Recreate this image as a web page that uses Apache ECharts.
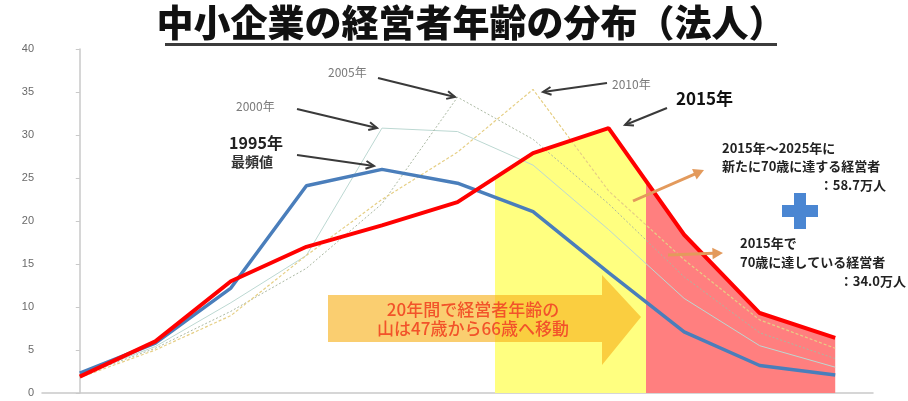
<!DOCTYPE html>
<html>
<head>
<meta charset="utf-8">
<script src="https://cdn.jsdelivr.net/npm/echarts@6/dist/echarts.min.js"></script>
<style>
html, body { margin: 0; padding: 0; background: #fff; }
#chart { width: 908px; height: 401px; }
</style>
</head>
<body>
<div id="chart"></div>
<script>
// age groups (labels are cut off in the source picture)
const ageGroups = ['～34歳', '35～39歳', '40～44歳', '45～49歳', '50～54歳', '55～59歳',
  '60～64歳', '65～69歳', '70～74歳', '75～79歳', '80歳～'];
const yTicks = [0, 5, 10, 15, 20, 25, 30, 35, 40];

// share of managers (%) per age group
const y1995 = [2.3, 5.8, 12.2, 24.1, 26.0, 24.4, 21.1, 14.0, 7.1, 3.2, 2.1];
const y2000 = [2.1, 5.4, 10.5, 16.0, 30.8, 30.4, 26.5, 19.0, 11.0, 5.5, 3.0];
const y2005 = [2.0, 5.2, 9.5, 14.5, 22.0, 34.4, 29.5, 22.0, 13.5, 7.0, 4.0];
const y2010 = [1.8, 5.0, 9.0, 16.0, 22.5, 28.0, 35.3, 23.5, 15.5, 8.5, 5.2];
const y2015 = [1.9, 6.0, 13.0, 17.0, 19.5, 22.2, 27.9, 30.8, 18.4, 9.3, 6.4];

const chart = echarts.init(document.getElementById('chart'));

const JP = '"Noto Sans CJK JP", sans-serif';

function txt(x, y, s, opt) {
  return {
    type: 'text', x: x, y: y, z: 100,
    style: Object.assign({ text: s, fill: '#222', font: 'bold 13px ' + JP }, opt || {})
  };
}

// open chevron arrow (grey callouts)
function arrow(x1, y1, x2, y2) {
  const a = Math.atan2(y2 - y1, x2 - x1), h = 9, w = 0.45;
  return [
    { type: 'line', z: 100, shape: { x1: x1, y1: y1, x2: x2, y2: y2 },
      style: { stroke: '#3a3a3a', lineWidth: 2 } },
    { type: 'polyline', z: 100,
      shape: { points: [[x2 - h * Math.cos(a - w), y2 - h * Math.sin(a - w)], [x2, y2],
        [x2 - h * Math.cos(a + w), y2 - h * Math.sin(a + w)]] },
      style: { stroke: '#3a3a3a', lineWidth: 2, fill: null } }
  ];
}

// solid head arrow (orange callouts)
function fatArrow(x1, y1, x2, y2) {
  const a = Math.atan2(y2 - y1, x2 - x1), h = 12, w = 0.5;
  const bx = x2 - h * 0.8 * Math.cos(a), by = y2 - h * 0.8 * Math.sin(a);
  return [
    { type: 'line', z: 100, shape: { x1: x1, y1: y1, x2: bx, y2: by },
      style: { stroke: '#e39a5c', lineWidth: 3 } },
    { type: 'polygon', z: 100,
      shape: { points: [[x2, y2], [x2 - h * Math.cos(a - w), y2 - h * Math.sin(a - w)],
        [x2 - h * Math.cos(a + w), y2 - h * Math.sin(a + w)]] },
      style: { fill: '#e39a5c' } }
  ];
}

const graphics = [].concat(
  [
    txt(471, 23, '中小企業の経営者年齢の分布（法人）',
      { font: '900 37px ' + JP, fill: '#111', align: 'center', verticalAlign: 'middle' }),
    { type: 'rect', z: 100, shape: { x: 165, y: 43, width: 612, height: 3 }, style: { fill: '#3c3c3c' } },
    // big moving arrow
    { type: 'polygon', z: 2,
      shape: { points: [[328, 295], [602, 295], [602, 275], [641, 317], [602, 365], [602, 342], [328, 342]] },
      style: { fill: 'rgba(247,176,25,0.62)' } },
    txt(473, 310, '20年間で経営者年齢の',
      { font: '500 17px ' + JP, fill: '#f2532a', align: 'center', verticalAlign: 'middle' }),
    txt(473, 329, '山は47歳から66歳へ移動',
      { font: '500 17px ' + JP, fill: '#f2532a', align: 'center', verticalAlign: 'middle' }),
    // year labels
    txt(328, 72, '2005年', { font: '12px ' + JP, fill: '#7a7a7a', verticalAlign: 'middle' }),
    txt(236, 106, '2000年', { font: '12px ' + JP, fill: '#7a7a7a', verticalAlign: 'middle' }),
    txt(612, 84, '2010年', { font: '12px ' + JP, fill: '#7a7a7a', verticalAlign: 'middle' }),
    txt(256, 143, '1995年', { font: 'bold 16px ' + JP, fill: '#222', align: 'center', verticalAlign: 'middle' }),
    txt(252, 162, '最頻値', { font: 'bold 14px ' + JP, fill: '#333', align: 'center', verticalAlign: 'middle' }),
    txt(676, 99, '2015年', { font: 'bold 17px ' + JP, fill: '#111', verticalAlign: 'middle' }),
    // right notes
    txt(722, 148, '2015年～2025年に', { verticalAlign: 'middle' }),
    txt(722, 166, '新たに70歳に達する経営者', { verticalAlign: 'middle' }),
    txt(886, 185, '：58.7万人', { align: 'right', verticalAlign: 'middle' }),
    txt(740, 243, '2015年で', { verticalAlign: 'middle' }),
    txt(740, 262, '70歳に達している経営者', { verticalAlign: 'middle' }),
    txt(906, 281, '：34.0万人', { align: 'right', verticalAlign: 'middle' }),
    // plus sign
    { type: 'polygon', z: 100,
      shape: { points: [[794, 193], [806, 193], [806, 205], [818, 205], [818, 217], [806, 217],
        [806, 229], [794, 229], [794, 217], [782, 217], [782, 205], [794, 205]] },
      style: { fill: '#4a86d2' } }
  ],
  arrow(378, 78, 455, 97),
  arrow(297, 109, 377, 128),
  arrow(297, 155, 374, 166),
  arrow(607, 83, 543, 92),
  arrow(667, 108, 625, 125),
  fatArrow(633, 201, 704, 170),
  fatArrow(668, 255, 723, 253)
);

const faint = (name, data, color, type, w) => ({
  name: name, type: 'line', data: data, symbol: 'none', z: 3,
  lineStyle: { color: color, width: w, type: type }
});

chart.setOption({
  animation: false,
  grid: { left: 42, top: 49, width: 831, bottom: 8 },
  xAxis: [
    {
      type: 'category', data: ageGroups,
      axisLine: { lineStyle: { color: '#c9c9c9', width: 1.5 } },
      axisTick: { length: 5, lineStyle: { color: '#c9c9c9' } },
      axisLabel: { show: false }
    },
    { type: 'value', min: -0.5, max: 10.5, show: false }
  ],
  yAxis: {
    type: 'value', min: yTicks[0], max: yTicks[yTicks.length - 1], interval: 5,
    splitLine: { show: false },
    axisLine: { show: true, lineStyle: { color: '#c9c9c9', width: 1.5 } },
    axisTick: { show: true, length: 4, lineStyle: { color: '#c9c9c9' } },
    axisLabel: { color: '#6a6a6a', fontSize: 11, fontFamily: 'Liberation Sans', margin: 8 }
  },
  visualMap: {
    type: 'piecewise', show: false, seriesIndex: 0, dimension: 0,
    pieces: [
      { gte: 5.5, lt: 7.5, color: '#ffff80' },
      { gte: 7.5, lte: 10.5, color: '#ff7f7f' }
    ],
    outOfRange: { color: 'rgba(255,255,255,0)' }
  },
  series: [
    {
      name: 'fill', type: 'line', xAxisIndex: 1, z: 1,
      data: y2015.map((v, i) => [i, v]),
      symbol: 'none', lineStyle: { width: 0 },
      areaStyle: { opacity: 1 }
    },
    faint('2000年', y2000, '#bcd8d2', 'solid', 1),
    faint('2005年', y2005, '#aab8a2', [2, 2], 1),
    faint('2010年', y2010, '#e6cf85', [3, 2], 1.2),
    {
      name: '1995年', type: 'line', data: y1995, symbol: 'none', z: 4,
      lineStyle: { color: '#4a7ebb', width: 3.5 }
    },
    {
      name: '2015年', type: 'line', data: y2015, symbol: 'none', z: 5,
      lineStyle: { color: '#ff0000', width: 4 }
    }
  ],
  graphic: graphics
});
</script>
</body>
</html>
